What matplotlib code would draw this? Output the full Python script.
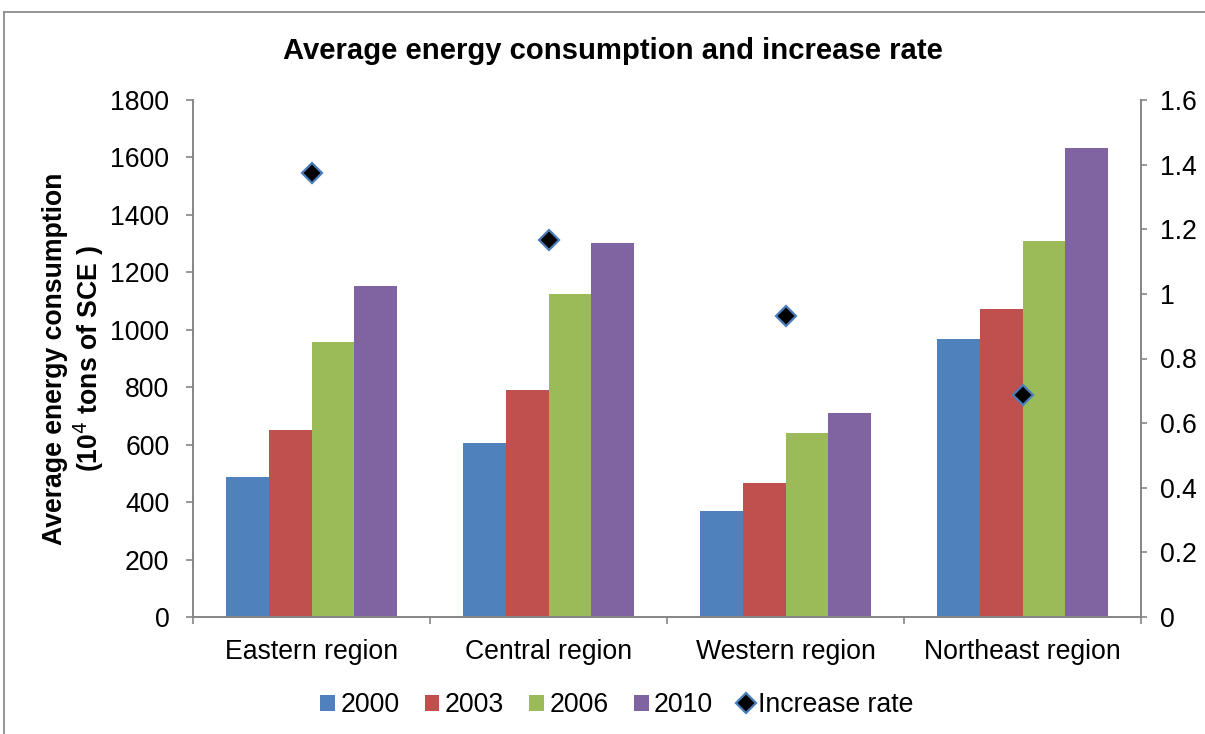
import numpy as np
import matplotlib
matplotlib.use("Agg")
import matplotlib.pyplot as plt
from matplotlib.lines import Line2D
from matplotlib.ticker import FuncFormatter

plt.rcParams['font.family'] = ['Liberation Sans', 'DejaVu Sans']

regions = ["Eastern region", "Central region", "Western region", "Northeast region"]
years = ["2000", "2003", "2006", "2010"]
c2000 = [486, 605, 368, 969]
c2003 = [650, 789, 466, 1074]
c2006 = [959, 1126, 639, 1310]
c2010 = [1154, 1303, 709, 1633]
rate = [1.374, 1.168, 0.933, 0.686]

colors = ["#4F81BD", "#C0504D", "#9BBB59", "#8064A2"]
grey = "#868686"
fs = 19.2

fig = plt.figure(figsize=(12.05, 7.34), dpi=100)
ax = fig.add_axes([193 / 1205, 1 - 617 / 734, (1141 - 193) / 1205, (617 - 100) / 734])
ax2 = ax.twinx()

x = np.arange(len(regions)) + 0.5
w = 0.181
for k, (vals, col, yr) in enumerate(zip([c2000, c2003, c2006, c2010], colors, years)):
    ax.bar(x + (k - 1.5) * w, vals, width=w, color=col, linewidth=0, label=yr, zorder=2)

ax2.plot(x, rate, linestyle="none", marker="D", markersize=10.5,
         markerfacecolor="black", markeredgecolor="#4A7EBB", markeredgewidth=1.6,
         label="Increase rate", zorder=3)

ax.set_xlim(0, 4)
ax.set_ylim(0, 1800)
ax.set_yticks(np.arange(0, 1801, 200))
ax2.set_ylim(0, 1.6)
ax2.set_yticks(np.arange(0, 1.61, 0.2))
ax2.yaxis.set_major_formatter(FuncFormatter(lambda v, p: f"{v:.1f}".rstrip("0").rstrip(".") if v else "0"))

# category boundaries get the ticks, names sit at the centres
ax.set_xticks([0, 1, 2, 3, 4])
ax.set_xticklabels([])
ax.set_xticks(x, minor=True)
ax.set_xticklabels(regions, minor=True)
ax.tick_params(axis="x", which="minor", length=0, pad=15.5, labelsize=fs)
ax.tick_params(axis="x", which="major", length=5, width=1.2, color=grey)
ax.tick_params(axis="y", length=5, width=1.2, color=grey, pad=12, labelsize=fs)
ax2.tick_params(axis="y", length=4, width=1.2, color=grey, pad=10, labelsize=fs)

for a in (ax, ax2):
    a.spines["top"].set_visible(False)
    for s in a.spines.values():
        s.set_color(grey)
        s.set_linewidth(1.4)
ax.spines["right"].set_visible(False)
ax2.spines["left"].set_visible(False)
ax2.spines["bottom"].set_visible(False)

ax.set_ylabel("Average energy consumption\n(10$^4$ tons of SCE )", fontsize=fs,
              fontweight="bold", labelpad=3, linespacing=1.15)

fig.text(613 / 1205, 1 - 51 / 734, "Average energy consumption and increase rate",
         ha="center", va="center", fontsize=21.1, fontweight="bold")

handles, labels = ax.get_legend_handles_labels()
h2, l2 = ax2.get_legend_handles_labels()
fig.legend(handles + h2, labels + l2, loc="center", bbox_to_anchor=(617 / 1205, 1 - 705 / 734),
           ncol=5, frameon=False, fontsize=fs, handlelength=0.55, handleheight=0.55,
           handletextpad=0.2, columnspacing=0.95)

# outer frame of the chart area
fig.add_artist(Line2D([4 / 1205, 4 / 1205], [-0.01, 1 - 12 / 734], transform=fig.transFigure,
                      color="#8c8c8c", linewidth=1.3))
fig.add_artist(Line2D([4 / 1205, 1.01], [1 - 12 / 734, 1 - 12 / 734], transform=fig.transFigure,
                      color="#8c8c8c", linewidth=1.3))

fig.savefig("out.png", dpi=100)
